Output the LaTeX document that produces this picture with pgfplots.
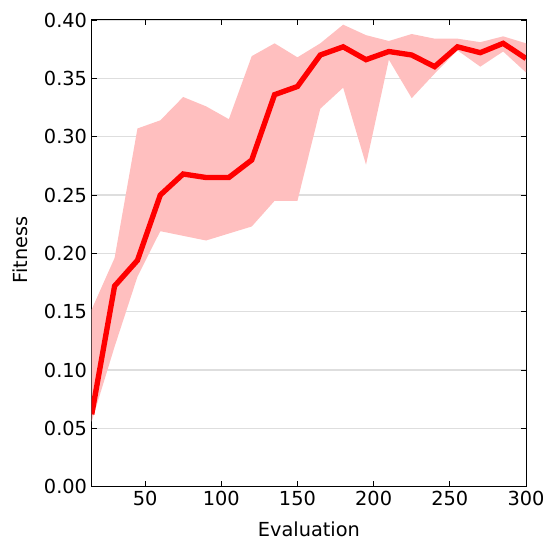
\documentclass[border=0pt]{standalone}
\usepackage{fontspec}
\setmainfont{DejaVu Sans}
\usepackage{pgfplots}
\pgfplotsset{compat=1.18}
\usepackage{pgfplotstable}
\usepgfplotslibrary{fillbetween}
\definecolor{band}{RGB}{255,191,191}
\pgfplotstableread{
e lower mean upper
15 0.056 0.062 0.152
30 0.120 0.172 0.196
45 0.180 0.194 0.307
60 0.219 0.250 0.314
75 0.215 0.268 0.334
90 0.211 0.265 0.326
105 0.217 0.265 0.315
120 0.223 0.280 0.369
135 0.245 0.336 0.380
150 0.245 0.343 0.368
165 0.324 0.370 0.380
180 0.342 0.377 0.396
195 0.276 0.366 0.387
210 0.366 0.373 0.382
225 0.333 0.370 0.388
240 0.354 0.360 0.384
255 0.374 0.377 0.384
270 0.360 0.372 0.381
285 0.373 0.380 0.386
300 0.355 0.367 0.380
}\datatable
\begin{document}
\begin{tikzpicture}
\begin{axis}[
  name=ax,
  scale only axis,
  width=325.7pt, height=350pt,
  xmin=15, xmax=300, ymin=0, ymax=0.4,
  xtick={50,100,150,200,250,300},
  ytick={0,0.05,0.10,0.15,0.20,0.25,0.30,0.35,0.40},
  yticklabel style={/pgf/number format/.cd, fixed, fixed zerofill, precision=2},
  /pgf/number format/assume math mode=true,
  tick label style={font=\fontsize{14.5}{17}\selectfont},
  label style={font=\fontsize{14.5}{17}\selectfont},
  xlabel={Evaluation}, ylabel={Fitness},
  xlabel style={at={(axis description cs:0.5,0)}, anchor=base, yshift=-37.3pt},
  ylabel style={at={(axis description cs:-0.164,0.507)}, anchor=center},
  ymajorgrids,
  grid style={color=black!13, line width=1pt},
  major tick length=4pt,
  tick style={black, line width=0.6pt},
  axis line style={black, line width=0.75pt},
]
\addplot[name path=u, draw=none, forget plot] table[x=e, y=upper] {\datatable};
\addplot[name path=l, draw=none, forget plot] table[x=e, y=lower] {\datatable};
\addplot[band, draw=none] fill between[of=u and l];
\addplot[red, line width=4pt, line join=miter, miter limit=2] table[x=e, y=mean] {\datatable};
\end{axis}
\pgfresetboundingbox
\path[use as bounding box] ([xshift=-68.8pt, yshift=-39.75pt]ax.south west) rectangle ([xshift=16.5pt, yshift=15pt]ax.north east);
\end{tikzpicture}
\end{document}
